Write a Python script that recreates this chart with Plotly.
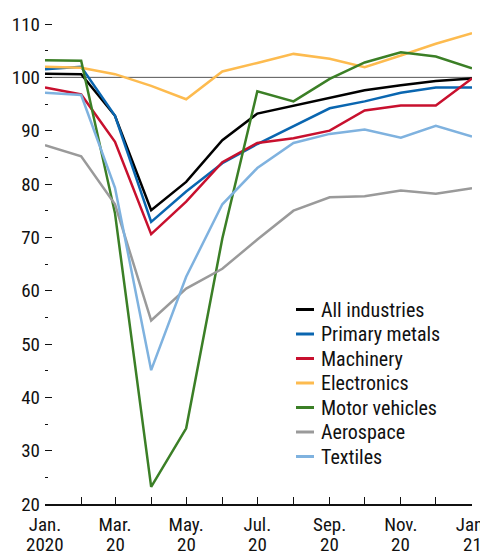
import plotly.graph_objects as go

# monthly index levels, Jan 2020 = 100 reference
months = ["2020-01-01", "2020-02-01", "2020-03-01", "2020-04-01", "2020-05-01",
          "2020-06-01", "2020-07-01", "2020-08-01", "2020-09-01", "2020-10-01",
          "2020-11-01", "2020-12-01", "2021-01-01"]

all_industries = [100.7, 100.6, 92.8, 75.1, 80.4, 88.2, 93.2, 94.7, 96.2, 97.6, 98.5, 99.3, 99.8]
primary_metals = [101.5, 102.0, 92.8, 72.9, 78.6, 83.9, 87.5, 90.9, 94.2, 95.5, 97.1, 98.1, 98.1]
machinery = [98.1, 96.8, 87.9, 70.6, 76.7, 84.1, 87.7, 88.6, 90.0, 93.8, 94.7, 94.7, 99.8]
electronics = [102.0, 101.8, 100.6, 98.4, 95.9, 101.1, 102.7, 104.4, 103.5, 101.9, 104.1, 106.3, 108.3]
motor_vehicles = [103.2, 103.1, 74.5, 23.2, 34.2, 69.8, 97.4, 95.5, 99.7, 102.8, 104.7, 103.9, 101.7]
aerospace = [87.3, 85.2, 76.2, 54.4, 60.4, 64.1, 69.6, 75.0, 77.5, 77.7, 78.8, 78.2, 79.2]
textiles = [97.1, 96.7, 79.3, 45.1, 62.6, 76.2, 83.0, 87.7, 89.4, 90.2, 88.7, 90.9, 88.9]

tick_dates = ["2020-01-01", "2020-03-01", "2020-05-01", "2020-07-01",
              "2020-09-01", "2020-11-01", "2021-01-01"]
tick_months = ["Jan.", "Mar.", "May.", "Jul.", "Sep.", "Nov.", "Jan."]
tick_years = ["2020", "20", "20", "20", "20", "20", "21"]
y_ticks = [20, 30, 40, 50, 60, 70, 80, 90, 100, 110]

series = [
    ("All industries", all_industries, "#000000"),
    ("Primary metals", primary_metals, "#0a66b0"),
    ("Machinery", machinery, "#c8102e"),
    ("Electronics", electronics, "#fdbb4f"),
    ("Motor vehicles", motor_vehicles, "#3b7f26"),
    ("Aerospace", aerospace, "#9a9a9a"),
    ("Textiles", textiles, "#7fb2df"),
]

fnt = "Roboto Condensed, Arial Narrow, sans-serif"

# the page body has an 8px margin, so the figure is drawn 8px in from the corner
OFF = 8
W, H = 488 - OFF, 554 - OFF
# plot area, in figure pixels
L, R, T, B = 45 - OFF, 472 - OFF, 12 - OFF, 504 - OFF
y_range = [20, 20 + (B - T) / 5.333]

fig = go.Figure()
for name, vals, col in series:
    fig.add_trace(go.Scatter(x=months, y=vals, name=name, mode="lines",
                             line=dict(color=col, width=2.5), showlegend=False))

# reference line at 100
fig.add_shape(type="line", xref="paper", x0=0, x1=1, yref="y", y0=100, y1=100,
              line=dict(color="#555555", width=1), layer="below")

# legend drawn by hand so the row spacing matches
for i, (name, vals, col) in enumerate(series):
    py = 309.5 + 24.5 * i - OFF
    yp = (B - py) / (B - T)
    fig.add_shape(type="line", xref="paper", yref="paper",
                  x0=(296 - OFF - L) / (R - L), x1=(314 - OFF - L) / (R - L), y0=yp, y1=yp,
                  line=dict(color=col, width=3))
    fig.add_annotation(xref="paper", yref="paper", x=(319 - OFF - L) / (R - L), y=yp,
                       text=name, showarrow=False, xanchor="left", yanchor="middle",
                       font=dict(size=20, color="#111111"))

# second line of the x labels (years)
for d, yr in zip(tick_dates, tick_years):
    fig.add_annotation(xref="x", yref="paper", x=d, y=0, yshift=-40.5, text=yr,
                       showarrow=False, xanchor="center", yanchor="middle",
                       font=dict(size=19, color="#111111"))

tick_style = dict(ticks="inside", ticklen=7, tickcolor="#111111", showline=False,
                  showgrid=False, zeroline=False, automargin=False,
                  minor=dict(dtick=5, ticks="inside", ticklen=3,
                             tickcolor="#111111", showgrid=False))

fig.update_layout(
    width=W, height=H,
    margin=dict(l=L, r=W - R, t=T, b=H - B),
    plot_bgcolor="white", paper_bgcolor="white",
    font=dict(family=fnt, size=19, color="#111111"),
    showlegend=False,
    xaxis=dict(range=["2020-01-01", "2021-01-01"], tickvals=tick_dates,
               ticktext=tick_months, ticks="inside", ticklen=7,
               tickcolor="#111111", showline=True, linecolor="#111111",
               linewidth=1.5, showgrid=False, zeroline=False, automargin=False,
               ticklabelstandoff=2, ticklabeloverflow="allow",
               minor=dict(dtick="M1", ticks="inside", ticklen=7,
                          tickcolor="#111111", showgrid=False)),
    yaxis=dict(range=y_range, tickvals=y_ticks, ticklabelstandoff=4, **tick_style),
    # right-hand ticks without labels
    yaxis2=dict(range=y_range, tickvals=y_ticks, overlaying="y", side="right",
                showticklabels=False, **tick_style),
)

fig.write_html("out.html")
